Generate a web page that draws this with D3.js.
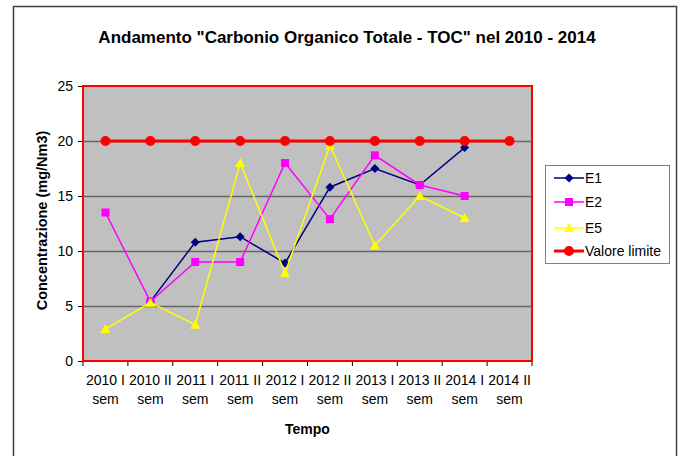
<!DOCTYPE html>
<html>
<head>
<meta charset="utf-8">
<script src="https://cdn.jsdelivr.net/npm/d3@7"></script>
<style>
  html, body { margin: 0; padding: 0; background: #fff; }
  svg { display: block; font-family: "Liberation Sans", Arial, sans-serif; }
</style>
</head>
<body>
<svg id="chart" width="683" height="456"></svg>
<script>
// Semesters on the category axis
const categories = [
  "2010 I sem", "2010 II sem", "2011 I sem", "2011 II sem", "2012 I sem",
  "2012 II sem", "2013 I sem", "2013 II sem", "2014 I sem", "2014 II sem"
];
// TOC concentrations (mg/Nm3); null = no measurement
const e1 = [null, 5.4, 10.8, 11.3, 8.9, 15.8, 17.5, 16.0, 19.4, null];
const e2 = [13.5, 5.4, 9.0, 9.0, 18.0, 12.9, 18.7, 16.0, 15.0, null];
const e5 = [2.9, 5.3, 3.3, 18.0, 8.0, 19.6, 10.5, 15.0, 13.0, null];
const limite = [20, 20, 20, 20, 20, 20, 20, 20, 20, 20];
const yTicks = [0, 5, 10, 15, 20, 25];

const series = [
  { name: "E1", values: e1, color: "#000080", width: 1.5, marker: "diamond" },
  { name: "E2", values: e2, color: "#FF00FF", width: 1.5, marker: "square" },
  { name: "E5", values: e5, color: "#FFFF00", width: 1.5, marker: "triangle" },
  { name: "Valore limite", values: limite, color: "#FF0000", width: 3, marker: "circle" }
];

const svg = d3.select("#chart");

// outer chart frame
svg.append("rect")
  .attr("x", 13.5).attr("y", 6.5).attr("width", 663).attr("height", 470)
  .attr("fill", "#fff").attr("stroke", "#404040").attr("stroke-width", 1.5);

const plot = { left: 83, top: 86, right: 532, bottom: 361 };

const x = d3.scaleBand().domain(categories).range([plot.left, plot.right]).padding(0);
const y = d3.scaleLinear().domain([0, 25]).range([plot.bottom, plot.top]);

// plot background
svg.append("rect")
  .attr("x", plot.left).attr("y", plot.top)
  .attr("width", plot.right - plot.left).attr("height", plot.bottom - plot.top)
  .attr("fill", "#C0C0C0");

// horizontal gridlines
svg.append("g").selectAll("line").data(yTicks.filter(d => d > 0 && d < 25)).join("line")
  .attr("x1", plot.left).attr("x2", plot.right)
  .attr("y1", d => Math.round(y(d)) + 0.5).attr("y2", d => Math.round(y(d)) + 0.5)
  .attr("stroke", "#666").attr("stroke-width", 1.3);

// y axis
const yAxis = svg.append("g")
  .attr("transform", `translate(${plot.left},0)`)
  .call(d3.axisLeft(y).tickValues(yTicks).tickSize(5).tickPadding(5).tickSizeOuter(0));
yAxis.select(".domain").attr("stroke", "#000");
yAxis.selectAll(".tick line").attr("stroke", "#000");
yAxis.selectAll("text").attr("font-size", 14).attr("fill", "#000")
  .attr("font-family", "'Liberation Sans', Arial, sans-serif");

// x axis: ticks on category boundaries, labels centered on each band
const bounds = categories.map(c => x(c)).concat([plot.right]);
const xAxis = svg.append("g").attr("transform", `translate(0,${plot.bottom})`);
xAxis.append("line").attr("x1", plot.left).attr("x2", plot.right)
  .attr("y1", 0.5).attr("y2", 0.5).attr("stroke", "#000");
xAxis.selectAll("line.tk").data(bounds).join("line").attr("class", "tk")
  .attr("x1", d => d).attr("x2", d => d).attr("y1", 0).attr("y2", 5)
  .attr("stroke", "#000");
const xl = xAxis.selectAll("text").data(categories).join("text")
  .attr("text-anchor", "middle").attr("font-size", 14).attr("fill", "#000")
  .attr("transform", d => `translate(${x(d) + x.bandwidth() / 2},0)`);
xl.append("tspan").attr("x", 0).attr("y", 24).text(d => d.slice(0, d.lastIndexOf(" ")));
xl.append("tspan").attr("x", 0).attr("y", 43).text(d => d.slice(d.lastIndexOf(" ") + 1));

// red plot frame
svg.append("rect")
  .attr("x", plot.left).attr("y", plot.top)
  .attr("width", plot.right - plot.left).attr("height", plot.bottom - plot.top)
  .attr("fill", "none").attr("stroke", "#FF0000").attr("stroke-width", 2);

// markers
function drawMarker(g, kind, color, cx, cy) {
  if (kind === "diamond") {
    g.append("path").attr("d", `M${cx},${cy - 4.5}L${cx + 4.5},${cy}L${cx},${cy + 4.5}L${cx - 4.5},${cy}Z`)
      .attr("fill", color);
  } else if (kind === "square") {
    g.append("rect").attr("x", cx - 4).attr("y", cy - 4).attr("width", 8).attr("height", 8)
      .attr("fill", color);
  } else if (kind === "triangle") {
    g.append("path").attr("d", `M${cx},${cy - 5}L${cx + 5},${cy + 4}L${cx - 5},${cy + 4}Z`)
      .attr("fill", color);
  } else {
    g.append("circle").attr("cx", cx).attr("cy", cy).attr("r", 5).attr("fill", color);
  }
}

const cxOf = i => x(categories[i]) + x.bandwidth() / 2;
const line = d3.line().defined(d => d.v !== null).x(d => cxOf(d.i)).y(d => y(d.v));

series.forEach(s => {
  const g = svg.append("g");
  const pts = s.values.map((v, i) => ({ v, i }));
  g.append("path").attr("d", line(pts)).attr("fill", "none")
    .attr("stroke", s.color).attr("stroke-width", s.width);
  pts.filter(p => p.v !== null).forEach(p => drawMarker(g, s.marker, s.color, cxOf(p.i), y(p.v)));
});

// titles
svg.append("text").attr("x", 347).attr("y", 43).attr("text-anchor", "middle")
  .attr("font-size", 17).attr("font-weight", "bold").attr("fill", "#000")
  .text('Andamento "Carbonio Organico Totale - TOC" nel 2010 - 2014');
svg.append("text").attr("x", (plot.left + plot.right) / 2).attr("y", 434).attr("text-anchor", "middle")
  .attr("font-size", 14).attr("font-weight", "bold").attr("fill", "#000").text("Tempo");
svg.append("text").attr("transform", `translate(47,${(plot.top + plot.bottom) / 2 - 3}) rotate(-90)`)
  .attr("text-anchor", "middle").attr("font-size", 14.5).attr("font-weight", "bold").attr("fill", "#000")
  .text("Concentrazione (mg/Nm3)");

// legend
const lg = svg.append("g");
lg.append("rect").attr("x", 545.5).attr("y", 165.5).attr("width", 124).attr("height", 98)
  .attr("fill", "#fff").attr("stroke", "#808080").attr("stroke-width", 1);
const rowY = [178, 202, 228, 251];
series.forEach((s, k) => {
  const yy = rowY[k];
  lg.append("line").attr("x1", 554).attr("x2", 584).attr("y1", yy).attr("y2", yy)
    .attr("stroke", s.color).attr("stroke-width", s.width);
  drawMarker(lg, s.marker, s.color, 569, yy);
  lg.append("text").attr("x", 585).attr("y", yy + 5).attr("font-size", 14).attr("fill", "#000").text(s.name);
});
</script>
</body>
</html>
